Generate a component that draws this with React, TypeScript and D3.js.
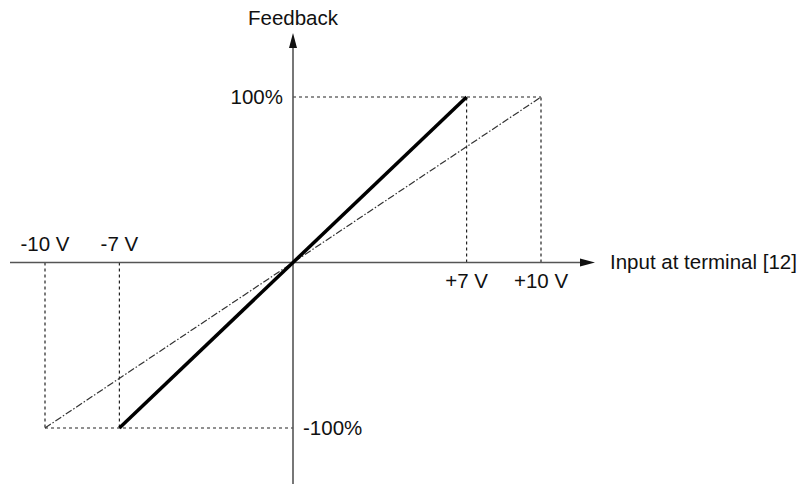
import React from "react";
import * as d3 from "d3";

const xTickValues = [-10, -7, 7, 10];
const xTickLabels = ["-10 V", "-7 V", "+7 V", "+10 V"];
const yTickValues = [100, -100];
const yTickLabels = ["100%", "-100%"];
const solidLine: [number, number][] = [[-7, -100], [7, 100]];
const dashDotLine: [number, number][] = [[-10, -100], [10, 100]];
const xAxisTitle = "Input at terminal [12]";
const yAxisTitle = "Feedback";

export default function App() {
  const W = 805, H = 484;
  const x = d3.scaleLinear().domain([-10, 10]).range([45, 541]);
  const y = d3.scaleLinear().domain([-100, 100]).range([428, 97]);
  const x0 = x(0), y0 = y(0);
  const line = d3.line<[number, number]>().x(d => x(d[0])).y(d => y(d[1]));
  const font = "Liberation Sans, Arial, sans-serif";
  const axisColor = "#555";
  const dash = "3,3";
  const fs = 20.5;
  return (
    <svg width={W} height={H} style={{ position: "absolute", left: 0, top: 0, background: "#fff" }}>
      {/* guide lines */}
      {xTickValues.map((v, i) => {
        const yv = v > 0 ? 100 : -100;
        return (
          <line key={"v" + i} x1={x(v)} x2={x(v)} y1={y0} y2={y(yv)} stroke="#222" strokeWidth={1.2} strokeDasharray={dash} />
        );
      })}
      <line x1={x0} x2={x(10)} y1={y(100)} y2={y(100)} stroke="#222" strokeWidth={1.2} strokeDasharray={dash} />
      <line x1={x(-10)} x2={x0} y1={y(-100)} y2={y(-100)} stroke="#222" strokeWidth={1.2} strokeDasharray={dash} />
      {/* axes */}
      <line x1={10} x2={585} y1={y0} y2={y0} stroke={axisColor} strokeWidth={1.6} />
      <path d={`M${595},${y0} L${580},${y0 - 4} L${580},${y0 + 4} Z`} fill="#111" />
      <line x1={x0} x2={x0} y1={46} y2={H} stroke={axisColor} strokeWidth={1.6} />
      <path d={`M${x0},${33} L${x0 - 4},${48} L${x0 + 4},${48} Z`} fill="#111" />
      {/* data lines */}
      <path d={line(dashDotLine) || ""} stroke="#333" strokeWidth={1.2} fill="none" strokeDasharray="7,2,1.5,2" />
      <path d={line(solidLine) || ""} stroke="#000" strokeWidth={3.5} fill="none" />
      {/* tick labels */}
      {xTickValues.map((v, i) => (
        <text key={"t" + i} x={x(v)} y={v < 0 ? y0 - 12 : y0 + 25} textAnchor="middle" fontFamily={font} fontSize={fs} fill="#111">
          {xTickLabels[i]}
        </text>
      ))}
      {yTickValues.map((v, i) => (
        <text key={"y" + i} x={v > 0 ? x0 - 10 : x0 + 10} y={y(v) + 7} textAnchor={v > 0 ? "end" : "start"} fontFamily={font} fontSize={fs} fill="#111">
          {yTickLabels[i]}
        </text>
      ))}
      <text x={610} y={y0 + 6} fontFamily={font} fontSize={fs} fill="#111">{xAxisTitle}</text>
      <text x={x0} y={25} textAnchor="middle" fontFamily={font} fontSize={fs} fill="#111">{yAxisTitle}</text>
    </svg>
  );
}
